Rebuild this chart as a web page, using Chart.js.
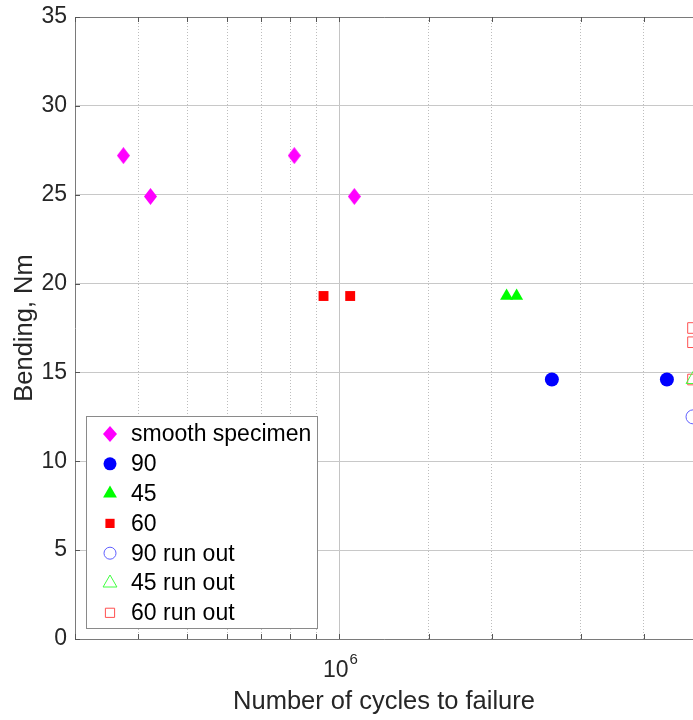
<!DOCTYPE html>
<html>
<head>
<meta charset="utf-8">
<script src="https://cdn.jsdelivr.net/npm/chart.js@4.4.1/dist/chart.umd.min.js"></script>
<style>
  html, body { margin: 0; padding: 0; background: #fff; }
  #wrap { width: 693px; height: 720px; }
</style>
</head>
<body>
<div id="wrap"><canvas id="sn" width="693" height="720"></canvas></div>
<script>
// cycles to failure (N) and bending moment (Nm) for each specimen group
let smoothN = [3.74e5, 4.23e5, 8.14e5, 1.07e6]
let smoothM = [27.2, 24.9, 27.2, 24.9]
let n90 = [2.63e6, 4.44e6]
let m90 = [14.6, 14.6]
let n45 = [2.14e6, 2.24e6]
let m45 = [19.3, 19.3]
let n60 = [9.3e5, 1.05e6]
let m60 = [19.3, 19.3]
let n90run = [5e6]
let m90run = [12.5]
let n45run = [5e6]
let m45run = [14.6]
let n60run = [5e6, 5e6, 5e6]
let m60run = [17.5, 16.7, 14.6]

let yTicks = [0, 5, 10, 15, 20, 25, 30, 35]
let xRange = [3e5, 5e6]

let pts = (xs, ys) => xs.map((x, i) => ({x: x, y: ys[i]}))

// tall diamond marker
let diamond = (w, h) => {
    let c = document.createElement('canvas')
    c.width = w; c.height = h
    let g = c.getContext('2d')
    g.fillStyle = '#ff00ff'
    g.beginPath()
    g.moveTo(w / 2, 0); g.lineTo(w, h / 2); g.lineTo(w / 2, h); g.lineTo(0, h / 2)
    g.closePath(); g.fill()
    return c
}
let diaPlot = diamond(13, 17)
let diaLegend = diamond(14, 16)

let sets = [
    {label: 'smooth specimen', data: pts(smoothN, smoothM), pointStyle: diaPlot, legendStyle: diaLegend,
        backgroundColor: '#ff00ff', borderColor: '#ff00ff', pointRadius: 8, borderWidth: 0, lr: 8},
    {label: '90', data: pts(n90, m90), pointStyle: 'circle',
        backgroundColor: '#0000ff', borderColor: '#0000ff', pointRadius: 7, borderWidth: 0, lr: 6.5},
    {label: '45', data: pts(n45, m45), pointStyle: 'triangle',
        backgroundColor: '#00ff00', borderColor: '#00ff00', pointRadius: 7.5, borderWidth: 0, lr: 8},
    {label: '60', data: pts(n60, m60), pointStyle: 'rect',
        backgroundColor: '#ff0000', borderColor: '#ff0000', pointRadius: 7, borderWidth: 0, lr: 6.5},
    {label: '90 run out', data: pts(n90run, m90run), pointStyle: 'circle',
        backgroundColor: 'rgba(0,0,0,0)', borderColor: '#6060ff', pointRadius: 7, borderWidth: 1, lr: 6},
    {label: '45 run out', data: pts(n45run, m45run), pointStyle: 'triangle',
        backgroundColor: 'rgba(0,0,0,0)', borderColor: '#40ff40', pointRadius: 8, borderWidth: 1, lr: 8},
    {label: '60 run out', data: pts(n60run, m60run), pointStyle: 'rect',
        backgroundColor: 'rgba(0,0,0,0)', borderColor: '#ff5050', pointRadius: 7.5, borderWidth: 1, lr: 6.5}
]

let tickFont = {family: 'Liberation Sans', size: 23}
let titleFont = {family: 'Liberation Sans', size: 25.5}

// box, inward tick marks, 10^6 label and legend
let frame = {
    id: 'frame',
    afterDraw(chart) {
        let ctx = chart.ctx
        let a = chart.chartArea
        let xs = chart.scales.x, ys = chart.scales.y
        ctx.save()
        ctx.strokeStyle = '#7a7a7a'
        ctx.lineWidth = 1
        ctx.beginPath()
        ctx.rect(a.left + 0.5, a.top + 0.5, a.right - a.left, a.bottom - a.top)
        ctx.stroke()
        ctx.strokeStyle = '#555'
        ctx.beginPath()
        for (let t of xs.ticks) {
            let px = Math.round(xs.getPixelForValue(t.value)) + 0.5
            ctx.moveTo(px, a.bottom); ctx.lineTo(px, a.bottom - 5)
            ctx.moveTo(px, a.top); ctx.lineTo(px, a.top + 5)
        }
        for (let t of ys.ticks) {
            let py = Math.round(ys.getPixelForValue(t.value)) + 0.5
            ctx.moveTo(a.left, py); ctx.lineTo(a.left + 5, py)
        }
        ctx.stroke()

        // 10^6 tick label
        let px = xs.getPixelForValue(1e6)
        ctx.fillStyle = '#262626'
        ctx.textBaseline = 'alphabetic'
        ctx.font = '23px "Liberation Sans"'
        ctx.textAlign = 'right'
        ctx.fillText('10', px + 9, 677)
        ctx.font = '15px "Liberation Sans"'
        ctx.textAlign = 'left'
        ctx.fillText('6', px + 10, 664)

        // legend
        let lx = 86.5, ly = 416.5, lw = 231, lh = 212
        ctx.fillStyle = '#fff'
        ctx.fillRect(lx, ly, lw, lh)
        ctx.strokeStyle = '#8a8a8a'
        ctx.strokeRect(lx, ly, lw, lh)
        ctx.font = '23px "Liberation Sans"'
        ctx.textBaseline = 'middle'
        chart.data.datasets.forEach((ds, i) => {
            let yy = 434 + i * 29.8
            ctx.fillStyle = ds.backgroundColor
            ctx.strokeStyle = ds.borderColor
            ctx.lineWidth = ds.borderWidth || 1
            Chart.helpers.drawPoint(ctx, {
                pointStyle: ds.legendStyle || ds.pointStyle,
                radius: ds.lr, rotation: 0, borderWidth: ds.borderWidth
            }, 110, yy)
            ctx.fillStyle = '#000'
            ctx.textAlign = 'left'
            ctx.fillText(ds.label, 131, yy + 1)
        })
        ctx.restore()
    }
}

let chart = new Chart(document.getElementById('sn').getContext('2d'), {
    type: 'scatter',
    data: {
        datasets: sets.map(s => Object.assign({}, s, {
            pointBackgroundColor: s.backgroundColor,
            pointBorderColor: s.borderColor,
            pointBorderWidth: s.borderWidth,
            clip: false
        }))
    },
    options: {
        responsive: false,
        animation: false,
        layout: {autoPadding: false, padding: {top: 17, right: 0, left: 0, bottom: 0}},
        plugins: {legend: {display: false}, tooltip: {enabled: false}},
        scales: {
            x: {
                type: 'logarithmic',
                min: xRange[0],
                max: xRange[1],
                afterFit: s => { s.height = 81; s.paddingLeft = 0; s.paddingRight = 0 },
                border: {
                    display: false,
                    dash: c => (c.tick && c.tick.value === 1e6) ? [] : [1, 2]
                },
                grid: {
                    drawTicks: false,
                    color: c => (c.tick && c.tick.value === 1e6) ? '#c4c4c4' : '#bdbdbd',
                    lineWidth: 1
                },
                ticks: {
                    autoSkip: false,
                    maxRotation: 0,
                    font: tickFont,
                    callback: () => ''
                },
                title: {
                    display: true,
                    text: 'Number of cycles to failure',
                    color: '#262626',
                    font: titleFont,
                    padding: {top: 0, bottom: 3}
                }
            },
            y: {
                min: yTicks[0],
                max: yTicks[yTicks.length - 1],
                afterFit: s => { s.width = 75; s.paddingTop = 0; s.paddingBottom = 0 },
                afterBuildTicks: s => { s.ticks = yTicks.map(v => ({value: v})) },
                border: {display: false},
                grid: {drawTicks: false, color: '#c8c8c8', lineWidth: 1},
                ticks: {font: tickFont, color: '#262626', padding: 8},
                title: {
                    display: true,
                    text: 'Bending, Nm',
                    color: '#262626',
                    font: titleFont,
                    padding: {top: 10, bottom: 0}
                }
            }
        }
    },
    plugins: [frame]
})
</script>
</body>
</html>
